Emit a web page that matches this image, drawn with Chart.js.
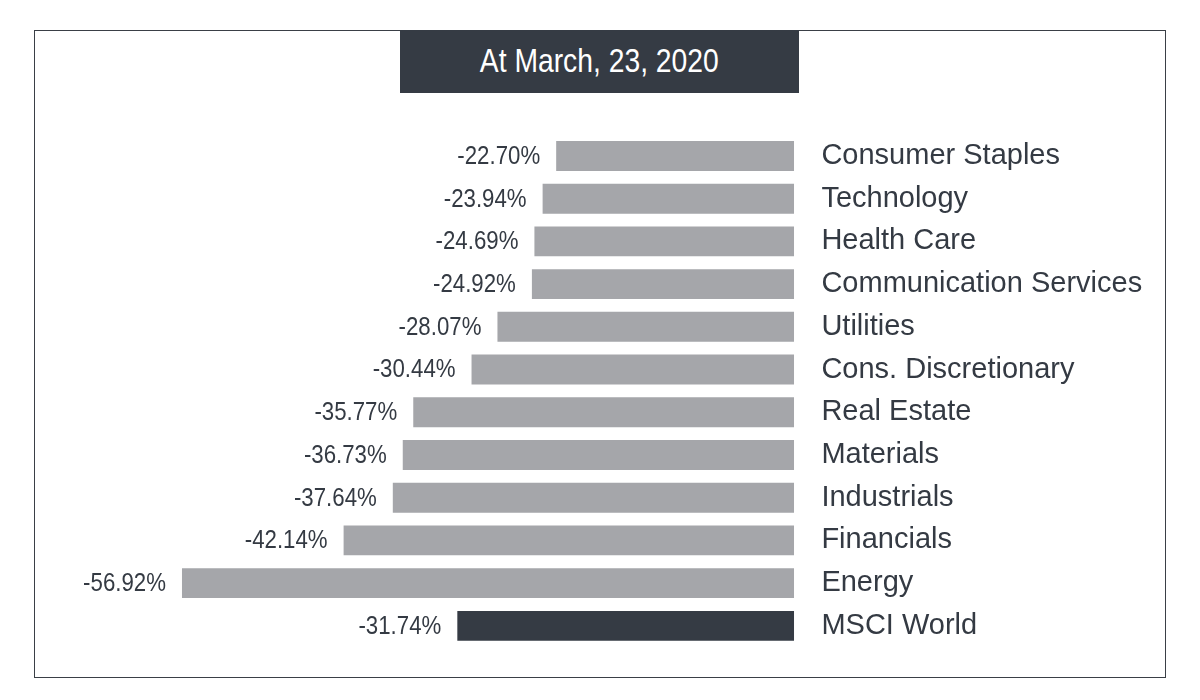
<!DOCTYPE html>
<html><head><meta charset="utf-8">
<script src="https://cdn.jsdelivr.net/npm/chart.js@4.4.1/dist/chart.umd.min.js"></script>
<style>
html,body{margin:0;padding:0;background:#fff;}
#wrap{position:relative;width:1200px;height:700px;overflow:hidden;}
canvas{position:absolute;left:0;top:0;}
#frame{position:absolute;left:34px;top:30px;width:1132px;height:648px;border:1.3px solid #3a3f46;box-sizing:border-box;pointer-events:none;}
#title{position:absolute;left:400px;top:30px;width:399px;height:63px;background:#353b44;color:#fff;font-family:'Liberation Sans',Arial,sans-serif;font-size:32.5px;line-height:63px;text-align:center;white-space:nowrap;}
#title span{display:inline-block;transform:scaleX(0.87);}
</style></head>
<body>
<div id="wrap">
<canvas id="c" width="1200" height="700"></canvas>
<div id="frame"></div>
<div id="title"><span>At March, 23, 2020</span></div>
</div>
<script>
const categories = ['Consumer Staples','Technology','Health Care','Communication Services','Utilities','Cons. Discretionary','Real Estate','Materials','Industrials','Financials','Energy','MSCI World'];
const returns = [-22.70,-23.94,-24.69,-24.92,-28.07,-30.44,-35.77,-36.73,-37.64,-42.14,-56.92,-31.74];
const benchmark = 'MSCI World';
const valueLabels = returns.map(v => v.toFixed(2) + '%');

const GRAY = '#a5a6aa';
const DARK = '#353b44';
const TEXT = '#343a43';
const barColors = categories.map(c => c === benchmark ? DARK : GRAY);

const valueLabelPlugin = {
  id: 'valueLabels',
  afterDatasetsDraw(chart) {
    const ctx = chart.ctx;
    const meta = chart.getDatasetMeta(0);
    const xs = chart.scales.x;
    ctx.save();
    ctx.fillStyle = TEXT;
    ctx.font = '25px "Liberation Sans", Arial, sans-serif';
    ctx.textAlign = 'right';
    ctx.textBaseline = 'middle';
    meta.data.forEach((bar, i) => {
      const x = xs.getPixelForValue(returns[i]) - 16;
      ctx.save();
      ctx.translate(x, bar.y + 1);
      ctx.scale(0.89, 1);
      ctx.fillText(valueLabels[i], 0, 0);
      ctx.restore();
    });
    ctx.restore();
  }
};

new Chart(document.getElementById('c'), {
  type: 'bar',
  data: {
    labels: categories,
    datasets: [{
      data: returns,
      backgroundColor: barColors,
      borderWidth: 0,
      base: -0.95,
      barPercentage: 0.7,
      categoryPercentage: 1.0
    }]
  },
  options: {
    indexAxis: 'y',
    responsive: false,
    animation: false,
    layout: { padding: { left: 148.3, right: 15.6, top: 134.6, bottom: 52.8 } },
    plugins: { legend: { display: false }, tooltip: { enabled: false }, title: { display: false } },
    scales: {
      x: { type: 'linear', min: -60, max: 0, display: false },
      y: {
        position: 'right',
        grid: { display: false },
        border: { display: false },
        ticks: { padding: 9, color: TEXT, font: { family: 'Liberation Sans', size: 29 } },
        afterFit(s) { s.width = 380; }
      }
    }
  },
  plugins: [valueLabelPlugin]
});
</script>
</body></html>
